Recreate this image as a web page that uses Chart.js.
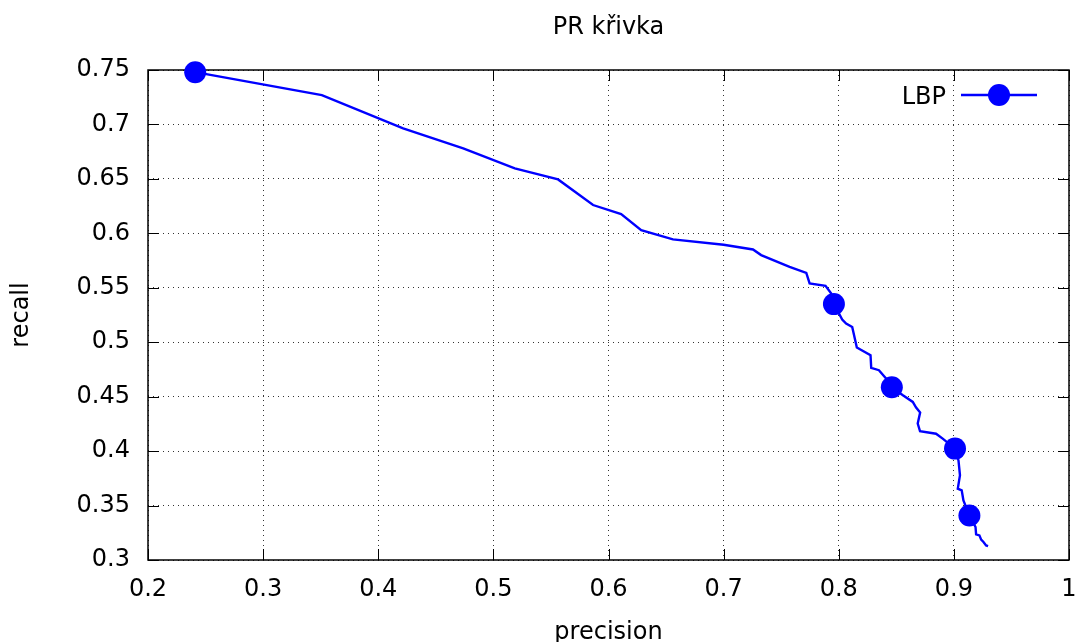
<!DOCTYPE html>
<html>
<head>
<meta charset="utf-8">
<title>PR křivka</title>
<script src="https://cdn.jsdelivr.net/npm/chart.js@4"></script>
<style>
  body { margin: 0; background: #fff; }
  #wrap { width: 1080px; height: 642px; }
</style>
</head>
<body>
<div id="wrap"><canvas id="prChart"></canvas></div>
<script>
// PR křivka pro deskriptor LBP
const precision = [
  0.241, 0.351, 0.4216, 0.4738, 0.5186, 0.5562, 0.5866, 0.611, 0.6284, 0.656,
  0.700, 0.7255, 0.7326, 0.7573, 0.7718, 0.7747, 0.7885, 0.7935, 0.7958, 0.803,
  0.8064, 0.8117, 0.8157, 0.8276, 0.8282, 0.8349, 0.8411, 0.8461, 0.8557, 0.8643,
  0.8672, 0.8707, 0.8686, 0.8706, 0.8845, 0.8903, 0.901, 0.904, 0.9053, 0.9034,
  0.9068, 0.9083, 0.9135, 0.9188, 0.9193, 0.9222, 0.9237, 0.9257, 0.928, 0.9297
];
const recall = [
  0.748, 0.727, 0.6964, 0.678, 0.6597, 0.6495, 0.626, 0.6177, 0.603, 0.5944,
  0.5895, 0.5852, 0.58, 0.5692, 0.5637, 0.554, 0.5518, 0.5448, 0.535, 0.5209,
  0.5171, 0.514, 0.4951, 0.488, 0.4764, 0.4743, 0.4666, 0.4586, 0.4513, 0.4452,
  0.44, 0.4354, 0.4253, 0.4182, 0.416, 0.4115, 0.4023, 0.3915, 0.3778, 0.3655,
  0.364, 0.3548, 0.3409, 0.3303, 0.3235, 0.3226, 0.3187, 0.3165, 0.3134, 0.3128
];
// body se symbolem (pointinterval)
const markedPoints = [0, 18, 27, 36, 42];
const seriesName = 'LBP';
const xRange = [0.2, 1.0];
const yRange = [0.3, 0.75];

const FONT = 'DejaVu Sans';
const FONT_SIZE = 24;
const BLUE = '#0000ff';

const points = precision.map((p, i) => ({ x: p, y: recall[i] }));

// popisky jako v gnuplotu: 0.7, 1 (bez koncovych nul)
const plainNum = v => String(Number(v.toFixed(2)));

// ramecek s dovnitr mirenymi tiky na vsech ctyrech stranach
const frame = {
  id: 'frame',
  beforeDatasetsDraw(chart) {
    const { ctx, chartArea: a, scales: { x, y } } = chart;
    const len = 11;
    ctx.save();
    ctx.strokeStyle = '#000';
    ctx.lineWidth = 1;
    ctx.beginPath();
    x.ticks.forEach(t => {
      const px = Math.round(x.getPixelForValue(t.value)) + 0.5;
      ctx.moveTo(px, a.bottom); ctx.lineTo(px, a.bottom - len);
      ctx.moveTo(px, a.top); ctx.lineTo(px, a.top + len);
    });
    y.ticks.forEach(t => {
      const py = Math.round(y.getPixelForValue(t.value)) + 0.5;
      ctx.moveTo(a.left, py); ctx.lineTo(a.left + len, py);
      ctx.moveTo(a.right, py); ctx.lineTo(a.right - len, py);
    });
    ctx.stroke();
    ctx.lineWidth = 1.5;
    ctx.strokeRect(a.left, a.top, a.width, a.height);
    ctx.restore();
  }
};

// legenda v pravem hornim rohu: text vlevo, za nim cara se symbolem
const key = {
  id: 'key',
  afterDatasetsDraw(chart) {
    const { ctx, chartArea: a } = chart;
    const ds = chart.data.datasets[0];
    const yMid = a.top + 25;
    const x1 = a.right - 108, x2 = a.right - 32;
    ctx.save();
    ctx.strokeStyle = ds.borderColor;
    ctx.lineWidth = ds.borderWidth;
    ctx.beginPath();
    ctx.moveTo(x1, yMid); ctx.lineTo(x2, yMid);
    ctx.stroke();
    ctx.fillStyle = ds.pointBackgroundColor;
    ctx.beginPath();
    ctx.arc((x1 + x2) / 2, yMid, 11, 0, Math.PI * 2);
    ctx.fill();
    ctx.fillStyle = '#000';
    ctx.font = FONT_SIZE + 'px "' + FONT + '"';
    ctx.textAlign = 'right';
    ctx.textBaseline = 'alphabetic';
    ctx.fillText(ds.label, a.right - 123, yMid + 9);
    ctx.restore();
  }
};

const gridOpts = { color: 'rgba(0,0,0,0.8)', lineWidth: 1, drawTicks: false };
const textFont = { family: FONT, size: FONT_SIZE, lineHeight: 1.2 };

new Chart(document.getElementById('prChart'), {
  type: 'line',
  data: {
    datasets: [{
      label: seriesName,
      data: points,
      borderColor: BLUE,
      borderWidth: 2.4,
      pointBackgroundColor: BLUE,
      pointBorderWidth: 0,
      pointRadius: ctx => markedPoints.includes(ctx.dataIndex) ? 11 : 0,
      pointHoverRadius: 0,
      tension: 0,
      clip: false
    }]
  },
  options: {
    responsive: true,
    maintainAspectRatio: false,
    animation: false,
    events: [],
    layout: { padding: { top: 0, right: 10, bottom: 0, left: 0 } },
    plugins: {
      legend: { display: false },
      tooltip: { enabled: false },
      title: {
        display: true,
        text: 'PR křivka',
        color: '#000',
        fullSize: false,
        font: { family: FONT, size: FONT_SIZE, weight: 'normal', lineHeight: 1.2 },
        padding: { top: 13, bottom: 28.2 }
      }
    },
    scales: {
      x: {
        type: 'linear',
        min: xRange[0],
        max: xRange[1],
        ticks: { stepSize: 0.1, color: '#000', font: textFont, padding: 15, maxRotation: 0, callback: plainNum },
        grid: gridOpts,
        border: { display: false, dash: [1, 4] },
        title: {
          display: true, text: 'precision', color: '#000',
          font: textFont,
          padding: { top: 0, bottom: -5 }
        },
        afterFit: s => { s.height = 82; s.paddingRight = 0; }
      },
      y: {
        type: 'linear',
        min: yRange[0],
        max: yRange[1],
        ticks: { stepSize: 0.05, color: '#000', font: textFont, padding: 18, callback: plainNum },
        grid: gridOpts,
        border: { display: false, dash: [1, 4] },
        title: {
          display: true, text: 'recall', color: '#000',
          font: textFont,
          padding: { top: 7, bottom: 0 }
        },
        afterFit: s => { s.width = 148; }
      }
    }
  },
  plugins: [frame, key]
});
</script>
</body>
</html>
